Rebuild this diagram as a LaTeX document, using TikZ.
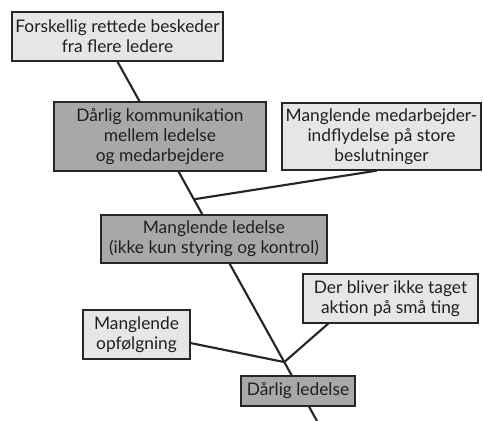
\documentclass[tikz,border=0pt]{standalone}
\usepackage{fontspec}
\setmainfont{Lato}
\usetikzlibrary{calc,backgrounds}
\definecolor{lightbox}{HTML}{E6E6E6}
\definecolor{darkbox}{HTML}{A8A8AA}
\definecolor{edge}{HTML}{262626}
\begin{document}
\begin{tikzpicture}[x=0.75pt,y=-0.75pt,
    box/.style={rectangle,draw=edge,line width=1pt,align=center,inner sep=0pt,
      font=\fontsize{13}{15}\selectfont,text=black!88},
    light/.style={box,fill=lightbox},
    dark/.style={box,fill=darkbox},
    bone/.style={draw=edge,line width=1.6pt}]
    \useasboundingbox (0,0) rectangle (483,421);
    \node[light,minimum width=211*0.75pt,minimum height=49*0.75pt] (beskeder) at (117.5,36.5) {Forskellig rettede beskeder\\fra flere ledere};
    \node[dark,minimum width=212*0.75pt,minimum height=69*0.75pt] (kommunikation) at (160,136.5) {Dårlig kommunikation\\mellem ledelse\\og medarbejdere};
    \node[light,minimum width=199*0.75pt,minimum height=67*0.75pt] (indflydelse) at (381.5,136.5) {Manglende medarbejder-\\indflydelse på store\\beslutninger};
    \node[dark,minimum width=226*0.75pt,minimum height=48*0.75pt] (manglende) at (214,239) {Manglende ledelse\\(ikke kun styring og kontrol)};
    \node[light,minimum width=107*0.75pt,minimum height=49*0.75pt] (opfoelgning) at (136.5,334.5) {Manglende\\opfølgning};
    \node[light,minimum width=175*0.75pt,minimum height=49*0.75pt] (aktion) at (390.5,298.5) {Der bliver ikke taget\\aktion på små ting};
    \node[dark,minimum width=114*0.75pt,minimum height=30*0.75pt] (ledelse) at (298,391) {Dårlig ledelse};
    \coordinate (spineend) at (317,421);
    \coordinate (j1) at ($(beskeder.south)!0.383!(spineend)$);
    \coordinate (j2) at ($(beskeder.south)!0.836!(spineend)$);
    % spine behind the boxes
    \begin{scope}[on background layer]
        \draw[bone] (beskeder.south) -- (spineend);
    \end{scope}
    \draw[bone] (indflydelse.-98) -- (j1);
    \draw[bone] (opfoelgning.-9) -- (j2);
    \draw[bone] (aktion.202) -- (j2);
\end{tikzpicture}
\end{document}
